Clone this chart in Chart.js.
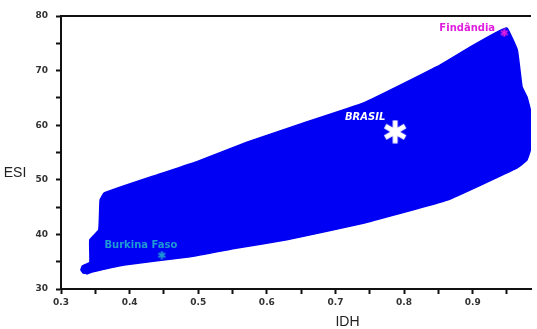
<!DOCTYPE html>
<html>
<head>
<meta charset="utf-8">
<script src="https://cdn.jsdelivr.net/npm/chart.js@4.4.1/dist/chart.umd.min.js"></script>
<style>
html,body{margin:0;padding:0;background:#fff;}
#wrap{width:537px;height:329px;position:relative;}
</style>
</head>
<body>
<div id="wrap"><canvas id="c" width="537" height="329"></canvas></div>
<script>
// Outline of the country cloud (IDH, ESI), traced clockwise
const cloudIDH = [0.333,0.329,0.331,0.342,0.342,0.355,0.357,0.363,0.44,0.498,0.571,0.644,0.742,0.848,0.896,0.936,0.950,0.965,0.972,0.979,0.984,0.984,0.979,0.965,0.863,0.742,0.629,0.557,0.488,0.392,0.345,0.337];
const cloudESI = [32.8,33.5,34.2,34.9,39.0,40.8,46.3,47.6,50.9,53.3,56.9,60.0,64.1,70.7,74.3,77.1,77.8,73.8,67.0,65.2,62.8,55.5,53.6,52.2,46.3,42.1,39.0,37.5,35.9,34.4,33.1,32.7];
// Highlighted countries
const countryNames = ["BRASIL","Burkina Faso","Findândia"];
const countryIDH = [0.787,0.447,0.946];
const countryESI = [58.8,36.2,76.9];
// Tick labels
const xTickLabels = ["0.3","0.4","0.5","0.6","0.7","0.8","0.9"];
const yTickLabels = ["30","40","50","60","70","80"];

const markerStyle = [
  {color:'#ffffff', size:24, lw:5, font:'oblique bold 10px "DejaVu Sans"', dx:-30, dy:-14},
  {color:'#1e9bd2', size:9, lw:2, font:'bold 10px "DejaVu Sans"', dx:-21, dy:-10},
  {color:'#e01ee0', size:9, lw:2, font:'bold 10px "DejaVu Sans"', dx:-37, dy:-5}
];

function makeAsterisk(size, color, lw){
  const c = document.createElement('canvas');
  c.width = size; c.height = size;
  const g = c.getContext('2d');
  g.strokeStyle = color; g.lineWidth = lw; g.lineCap = 'butt';
  const r = size/2 - 0.5, cx = size/2, cy = size/2;
  for (let i=0;i<3;i++){
    const a = Math.PI/2 + i*Math.PI/3;
    g.beginPath();
    g.moveTo(cx + r*Math.cos(a), cy + r*Math.sin(a));
    g.lineTo(cx - r*Math.cos(a), cy - r*Math.sin(a));
    g.stroke();
  }
  return c;
}

const cloudData = cloudIDH.map((x,i)=>({x:x, y:cloudESI[i]}));
const markerData = countryIDH.map((x,i)=>({x:x, y:countryESI[i]}));

const overlay = {
  id:'overlay',
  afterDatasetsDraw(chart){
    const ctx = chart.ctx, xs = chart.scales.x, ys = chart.scales.y, a = chart.chartArea;
    ctx.save();
    // top frame line
    ctx.strokeStyle = '#111'; ctx.lineWidth = 2;
    ctx.beginPath(); ctx.moveTo(a.left-1, a.top); ctx.lineTo(a.right, a.top); ctx.stroke();
    // labels
    ctx.textAlign = 'center'; ctx.textBaseline = 'middle';
    countryNames.forEach((n,i)=>{
      const s = markerStyle[i];
      ctx.font = s.font; ctx.fillStyle = s.color;
      ctx.fillText(n, xs.getPixelForValue(countryIDH[i]) + s.dx, ys.getPixelForValue(countryESI[i]) + s.dy);
    });
    // axis titles
    ctx.fillStyle = '#222';
    ctx.font = '14px "Liberation Sans", Arial';
    ctx.fillText('ESI', 15, ys.getPixelForValue(51.2));
    ctx.fillText('IDH', xs.getPixelForValue(0.7) + 12, 322);
    ctx.restore();
  }
};

new Chart(document.getElementById('c'), {
  type:'scatter',
  data:{
    datasets:[
      {
        data: markerData,
        showLine:false,
        pointStyle: markerStyle.map(s=>makeAsterisk(s.size, s.color, s.lw)),
        pointRadius: 5,
        order: 0
      },
      {
        data: cloudData,
        showLine:true,
        fill:'shape',
        backgroundColor:'#0000f4',
        borderColor:'#0000f4',
        borderWidth:1.5,
        pointRadius:0,
        tension:0.1,
        order: 1
      }
    ]
  },
  options:{
    responsive:false,
    animation:false,
    events:[],
    layout:{padding:{top:16, right:0, left:0, bottom:0}},
    plugins:{legend:{display:false}, tooltip:{enabled:false}},
    scales:{
      x:{
        type:'linear', min:0.3, max:0.985,
        afterFit(s){ s.height = 40; },
        afterBuildTicks(s){
          const t=[]; for(let k=0;k<=13;k++){ t.push({value: Math.round((0.3+k*0.05)*1000)/1000}); } s.ticks=t;
        },
        border:{display:true, color:'#111', width:2},
        grid:{drawOnChartArea:false, drawTicks:true, tickLength:5, tickWidth:2, tickColor:'#111'},
        ticks:{
          autoSkip:false, maxRotation:0, padding:3, color:'#333',
          font:{family:'"DejaVu Sans"', size:9, weight:'bold'},
          callback(v){ const k = Math.round(v*100); if (k%10!==0) return ''; const s=(k/100).toFixed(1); return xTickLabels.includes(s)?s:''; }
        }
      },
      y:{
        type:'linear', min:30, max:80,
        afterFit(s){ s.width = 61; },
        afterBuildTicks(s){
          const t=[]; for(let v=30; v<=80; v+=5){ t.push({value:v}); } s.ticks=t;
        },
        border:{display:true, color:'#111', width:2},
        grid:{drawOnChartArea:false, drawTicks:true, tickLength:5, tickWidth:2, tickColor:'#111'},
        ticks:{
          autoSkip:false, padding:8, color:'#333',
          font:{family:'"DejaVu Sans"', size:9, weight:'bold'},
          callback(v){ const s=String(v); return yTickLabels.includes(s)?s:''; }
        }
      }
    }
  },
  plugins:[overlay]
});
</script>
</body>
</html>
